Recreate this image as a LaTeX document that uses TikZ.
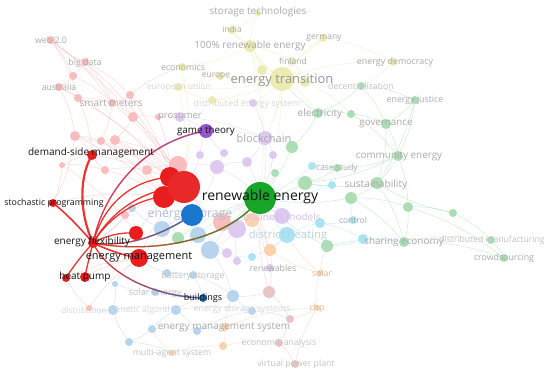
\documentclass[tikz,border=0pt]{standalone}
\usepackage{fontspec}
\setmainfont{Open Sans}
\usetikzlibrary{fadings}
\definecolor{cR}{RGB}{232,30,30}
\definecolor{cG}{RGB}{25,165,40}
\definecolor{cB}{RGB}{25,120,205}
\definecolor{cP}{RGB}{150,85,205}
\definecolor{lR}{RGB}{250,188,188}
\definecolor{lY}{RGB}{236,236,178}
\definecolor{lP}{RGB}{222,202,240}
\definecolor{lGr}{RGB}{172,222,182}
\definecolor{lC}{RGB}{168,228,244}
\definecolor{lB}{RGB}{182,212,238}
\definecolor{lO}{RGB}{250,210,172}
\definecolor{lBr}{RGB}{232,196,196}
\definecolor{txk}{RGB}{20,20,20}
\definecolor{tg1}{RGB}{150,150,150}
\definecolor{tg2}{RGB}{170,170,170}
\definecolor{tg3}{RGB}{195,195,195}
\definecolor{tg4}{RGB}{215,215,215}
\definecolor{tES}{RGB}{175,192,212}
\definecolor{tBM}{RGB}{215,192,230}
\definecolor{tDH}{RGB}{185,212,222}
\definecolor{tOr}{RGB}{225,180,150}
\newcommand\fsz[1]{\fontsize{#1}{#1}\selectfont}
\tikzfading[name=fadeR, left color=transparent!100, right color=transparent!0]
\def\fadednodes{a1/51/40/4/lR, a2/85/62/4/lR, a3/73/76/4/lR, a4/59/87/4/lR, a5/78/98/4/lR, a6/130/95/4/lR, a7/112/103/4/lR, a8/133/117/5/lR, a9/158/117/3/lR, a10/75/136/5/lR, a11/101/141/4/lR, a12/115/140/5/lR, a13/62/165/3/lR, a14/105/170/4/lR, a15/147/170/5/lR, a16/178/165/9/lR, a17/89/308/3/lR, a19/125/215/4/lR, a20/222/222/9/lR,
b1/282/79/12/lY, b2/250/46/6/lY, b3/232/30/4/lY, b4/258/13/3/lY, b5/323/38/4/lY, b6/292/61/4/lY, b7/182/67/4/lY, b8/220/76/4/lY, b9/178/87/4/lY, b10/393/62/4/lY, b11/212/100/4/lY, b12/262/70/5/lY, b13/305/82/5/lY,
c1/180/117/5/lP, c2/253/103/4/lP, c3/265/138/7/lP, c4/217/167/7/lP, c5/247/162/5/lP, c6/224/153/4/lP, c7/273/155/4/lP, c8/282/216/8/lP, c9/237/229/9/lP, c10/227/253/5/lP, c11/270/268/4/lP, c12/237/261/4/lP, c13/200/155/4/lP,
d1/361/86/4/lGr, d2/415/100/4/lGr, d3/318/113/5/lGr, d4/351/114/4/lGr, d5/386/124/5/lGr, d6/398/156/5/lGr, d7/337/168/4/lGr, d8/377/183/6/lGr, d9/305/183/7/lGr, d10/292/147/6/lGr, d11/351/198/6/lGr, d12/408/207/5/lGr, d13/453/213/4/lGr, d14/327/246/6/lGr, d15/404/242/5/lGr, d16/491/240/4/lGr, d17/504/258/4/lGr, d18/178/238/6/lGr, d19/275/173/4/lGr,
e1/287/235/8/lC, e2/312/166/4/lC, e3/353/220/4/lC, e4/320/223/5/lC, e5/363/239/5/lC, e6/252/257/4/lC, e7/332/185/4/lC,
f1/162/229/8/lB, f2/198/235/8/lB, f3/210/250/9/lB, f4/167/273/4/lB, f5/193/275/4/lB, f6/115/284/3/lB, f7/233/296/6/lB, f8/113/310/5/lB, f9/176/310/5/lB, f10/252/311/4/lB, f11/152/329/4/lB, f12/197/331/4/lB, f13/129/342/4/lB, f14/132/208/4/lB, f15/155/292/4/lB,
g1/252/220/7/lO, g2/225/327/4/lO, g3/172/353/3/lO, g4/223/346/4/lO, g5/317/308/3/lO, g6/320/273/3/lO, g7/270/250/6/lO,
h1/269/292/6/lBr, h2/290/319/4/lBr, h3/279/343/4/lBr, h4/295/364/4/lBr}
\begin{document}
\begin{tikzpicture}[x=1pt,y=-1pt,
  edge/.style={line width=0.45pt, opacity=0.6},
  hl/.style={cR, line width=1.3pt, opacity=0.9, line cap=round},
  lab/.style={inner sep=0pt, anchor=center},
  blk/.style={lab, text=txk, font=\fsz{10}}]
\useasboundingbox (0,0) rectangle (550,375);
\fill[white] (0,0) rectangle (550,375);
% coordinates
\foreach \n/\x/\y/\r/\c in \fadednodes {\coordinate (\n) at (\x,\y);}
\coordinate (rn) at (260,198);
\coordinate (r1) at (170,177);
\coordinate (r2) at (184,187);
\coordinate (r3) at (164,197);
\coordinate (es) at (192,215);
\coordinate (r4) at (136,233);
\coordinate (em) at (139,258);
\coordinate (fl) at (93,243);
\coordinate (dsm) at (92,155);
\coordinate (sp) at (53,203);
\coordinate (hp1) at (66,278);
\coordinate (hp2) at (85,277);
\coordinate (gt) at (206,131);
\coordinate (bd) at (203,298);
% faint edges
\foreach \a/\b in {a1/a3,a1/a5,a1/a7,a2/a3,a2/a7,a2/a6,a3/a4,a4/a5,a4/a10,a5/a7,a6/a7,a6/a8,a7/a8,a7/a11,a8/a9,a8/a12,a10/a11,a10/dsm,a11/a12,a12/a15,a13/a14,a14/a15,a15/a16,a16/r2,a13/dsm,a14/dsm,a11/r1,a12/r1,a7/r2,a6/b7,a9/c1,a16/c4,a10/sp,a13/sp,a17/hp1,a17/em,a19/r3,a19/fl,a1/r2,a2/r2,a4/r2,a5/r1,a8/r2,a10/r3,dsm/r2,sp/r3,hp2/em,hp1/em,em/r2,r4/r2,a20/r2,a20/rn,a15/r3,a12/a16,a11/r3,a5/dsm,a3/a7,a2/a1,a9/r1,a6/r1,a14/r3,a13/r4,a10/r1}
  {\draw[edge,lR] (\a) to[bend left=10] (\b);}
\foreach \a/\b in {b1/b2,b1/b3,b1/b5,b1/b6,b1/b7,b1/b8,b1/b9,b1/b10,b1/b11,b1/b12,b1/b13,b2/b3,b2/b4,b2/b6,b2/b12,b4/b3,b5/b6,b7/b8,b8/b9,b11/b9,b10/d1,b1/c2,b1/c3,b1/rn,b2/rn,b7/r2,b9/r2,b1/d3,b13/d4,b11/c2,b2/b7,b5/b10,b6/b13}
  {\draw[edge,lY] (\a) to[bend left=10] (\b);}
\foreach \a/\b in {c1/c3,c1/gt,c2/c3,c3/c5,c3/c7,c3/rn,c4/c6,c4/c5,c4/rn,c6/gt,c13/gt,c5/rn,c7/rn,c8/rn,c9/rn,c10/es,c11/rn,c12/c9,c8/g1,c9/f3,c3/d10,gt/c3,c1/a9,c13/r2,c4/es}
  {\draw[edge,lP] (\a) to[bend left=10] (\b);}
\foreach \a/\b in {d1/d2,d1/d3,d1/d5,d2/d5,d3/d4,d3/d10,d4/d5,d5/d6,d6/d7,d6/d8,d7/d9,d8/d9,d8/d11,d9/rn,d10/rn,d11/rn,d11/d12,d12/d13,d12/d15,d13/d16,d15/d16,d16/d17,d15/d17,d14/d15,d14/rn,d18/rn,d18/r3,d19/rn,d8/d15,d6/d12,d2/d6,d5/d8,d3/b1,d13/d8,d11/d15,d4/d6,d12/d17,d6/d9,d2/d8}
  {\draw[edge,lGr] (\a) to[bend left=10] (\b);}
\foreach \a/\b in {e1/rn,e1/e4,e1/e6,e2/d7,e2/rn,e3/e4,e3/d11,e4/e5,e5/d15,e7/rn,e7/d9,e6/f3,e1/g7,e4/rn,e5/d14}
  {\draw[edge,lC] (\a) to[bend left=10] (\b);}
\foreach \a/\b in {f1/es,f2/es,f3/es,f1/f14,f1/em,f3/f7,f4/f5,f4/em,f5/f7,f5/bd,f6/f8,f7/bd,f8/f9,f9/f10,f9/f12,f10/f7,f11/f12,f11/f13,f12/g2,f13/f8,f15/bd,f15/f6,f14/fl,f2/rn,f3/rn,f10/h2,f13/g3,f11/f9,f6/em,f8/a17,f9/bd,f12/f10}
  {\draw[edge,lB] (\a) to[bend left=10] (\b);}
\foreach \a/\b in {g1/rn,g1/g7,g2/g4,g2/g5,g3/g4,g4/h3,g5/g6,g6/g7,g7/h1,g5/h2,g6/d14,g2/f7,g7/rn,g1/c8,g6/e1,g3/f11}
  {\draw[edge,lO] (\a) to[bend left=10] (\b);}
\foreach \a/\b in {h1/h2,h2/h3,h3/h4,h1/rn,h4/g5,h1/f7}
  {\draw[edge,lBr] (\a) to[bend left=10] (\b);}
% faint nodes
\foreach \n/\x/\y/\r/\c in \fadednodes {\fill[\c] (\n) circle (\r);}
% faint labels
\node[lab,text=tg2,font=\fsz{10}] (Lst) at (258,12) {storage technologies};
\node[lab,text=tg2,font=\fsz{8.5}] (Lin) at (232,29) {india};
\node[lab,text=tg2,font=\fsz{8.5}] (Lge) at (324,38) {germany};
\node[lab,text=tg2,font=\fsz{10}] (L100) at (250,46) {100\% renewable energy};
\node[lab,text=tg2,font=\fsz{8.8}] (Lweb) at (51,40) {web 2.0};
\node[lab,text=tg2,font=\fsz{8.5}] (Lfi) at (293,61) {finland};
\node[lab,text=tg2,font=\fsz{8.9}] (Led) at (395,62) {energy democracy};
\node[lab,text=tg2,font=\fsz{8.8}] (Lbd) at (85,63) {big data};
\node[lab,text=tg2,font=\fsz{8.8}] (Lec) at (183,67) {economics};
\node[lab,text=tg2,font=\fsz{8.5}] (Leu) at (216,76) {europe};
\node[lab,text=tg1,font=\fsz{13}] (Let) at (282,80) {energy transition};
\node[lab,text=tg2,font=\fsz{8.6}] (Lau) at (59,87) {australia};
\node[lab,text=tg4,font=\fsz{8.6}] (Leuu) at (179,87) {european union};
\node[lab,text=tg3,font=\fsz{8.8}] (Lde) at (361,86) {decentralization};
\node[lab,text=tg2,font=\fsz{8.8}] (Lej) at (415,100) {energy justice};
\node[lab,text=tg2,font=\fsz{10}] (Lsm) at (111,103) {smart meters};
\node[lab,text=tg4,font=\fsz{8.8}] (Ldes) at (247,104) {distributed energy system};
\node[lab,text=tg2,font=\fsz{10}] (Lel) at (320,114) {electricity};
\node[lab,text=tg2,font=\fsz{9.5}] (Lpr) at (180,117) {prosumer};
\node[lab,text=tg2,font=\fsz{9.8}] (Lgo) at (386,124) {governance};
\node[lab,text=tg2,font=\fsz{11}] (Lbc) at (264,138) {blockchain};
\node[lab,text=tg2,font=\fsz{9.9}] (Lce) at (399,156) {community energy};
\node[lab,text=tg2,font=\fsz{8.5}] (Lcs) at (337,168) {case study};
\node[lab,text=tg2,font=\fsz{10.2}] (Lsu) at (376,185) {sustainability};
\node[lab,text=tES,font=\fsz{12.2}] (Les) at (190,215) {energy storage};
\node[lab,text=tBM,font=\fsz{9.9}] (Lbm) at (282,217) {business models};
\node[lab,text=tg2,font=\fsz{8.5}] (Lco) at (353,220) {control};
\node[lab,text=tDH,font=\fsz{11.3}] (Ldh) at (288,236) {district heating};
\node[lab,text=tg2,font=\fsz{9.9}] (Lse) at (404,242) {sharing economy};
\node[lab,text=tg3,font=\fsz{8.6}] (Ldm) at (492,240) {distributed manufacturing};
\node[lab,text=tg2,font=\fsz{8.8}] (Lcr) at (504,258) {crowdsourcing};
\node[lab,text=tg2,font=\fsz{8.7}] (Lrw) at (273,268) {renewables};
\node[lab,text=tOr,font=\fsz{8.7}] (Lso) at (322,273) {solar};
\node[lab,text=tg3,font=\fsz{8.9}] (Lbs) at (193,276) {battery storage};
\node[lab,text=tg3,font=\fsz{9.2}] (Lsoe) at (155,293) {solar energy};
\node[lab,text=tg4,font=\fsz{8.4}] (Ldi) at (84,310) {distribution};
\node[lab,text=tg4,font=\fsz{8.6}] (Lga) at (146,310) {genetic algorithm};
\node[lab,text=tg4,font=\fsz{8.8}] (Less) at (242,310) {energy storage systems};
\node[lab,text=tOr,font=\fsz{8.7}] (Lchp) at (317,308) {chp};
\node[lab,text=tg2,font=\fsz{10}] (Lems) at (224,327) {energy management system};
\node[lab,text=tg3,font=\fsz{8.8}] (Lea) at (279,343) {economic analysis};
\node[lab,text=tg3,font=\fsz{8.8}] (Lmas) at (172,353) {multi-agent system};
\node[lab,text=tg3,font=\fsz{8.8}] (Lvpp) at (296,364) {virtual power plant};
% highlighted edges
\draw[hl, line width=2.2pt] (fl) .. controls (78,210) and (80,175) .. (dsm);
\draw[hl, line width=1.6pt] (fl) .. controls (75,222) and (62,210) .. (sp);
\draw[hl] (fl) .. controls (105,200) and (135,180) .. (r1);
\draw[hl] (fl) .. controls (115,205) and (150,188) .. (r2);
\draw[hl] (fl) .. controls (110,215) and (140,198) .. (r3);
\draw[hl] (fl) .. controls (105,236) and (120,232) .. (r4);
\draw[hl, line width=1.6pt] (fl) .. controls (108,250) and (125,256) .. (em);
\draw[hl] (fl) .. controls (82,255) and (72,268) .. (hp1);
\draw[hl] (fl) .. controls (90,255) and (87,266) .. (hp2);
\draw[hl] (fl) .. controls (105,185) and (150,140) .. (gt);
\draw[hl, cP, path fading=fadeR] (fl) .. controls (105,185) and (150,140) .. (gt);
\draw[hl] (fl) .. controls (130,248) and (165,233) .. (es);
\draw[hl, cB, path fading=fadeR] (fl) .. controls (130,248) and (165,233) .. (es);
\draw[hl] (fl) .. controls (150,254) and (228,242) .. (rn);
\draw[hl, cG, path fading=fadeR] (fl) .. controls (150,254) and (228,242) .. (rn);
\draw[hl] (fl) .. controls (110,278) and (160,297) .. (bd);
\draw[hl, cB, path fading=fadeR] (fl) .. controls (110,278) and (160,297) .. (bd);
% highlighted nodes
\fill[cR] (r1) circle (10);
\fill[cR] (r3) circle (11);
\fill[cR!95!white] (r2) circle (16);
\fill[cB] (es) circle (11);
\fill[cR] (r4) circle (7);
\fill[cR] (em) circle (9);
\fill[cR] (fl) circle (5);
\fill[cR] (dsm) circle (5);
\fill[cR] (sp) circle (4);
\fill[cR] (hp1) circle (4);
\fill[cR] (hp2) circle (5);
\fill[cP] (gt) circle (7);
\fill[cB!85!black] (bd) circle (4);
\fill[cG] (rn) circle (16);
% black labels
\node[lab,text=txk,font=\fsz{14}] (Lrn) at (260,197) {renewable energy};
\node[blk] (Ldsm) at (91,153) {demand-side management};
\node[blk,font=\fsz{9.8}] (Lgt) at (206,131) {game theory};
\node[blk,font=\fsz{8.8}] (Lsp) at (54,203) {stochastic programming};
\node[blk] (Lfl) at (92,242) {energy flexibility};
\node[blk,font=\fsz{11}] (Lem) at (139,257) {energy management};
\node[blk] (Lhp) at (85,277) {heat pump};
\node[blk,font=\fsz{9}] (Lbu) at (203,298) {buildings};
\end{tikzpicture}
\end{document}
